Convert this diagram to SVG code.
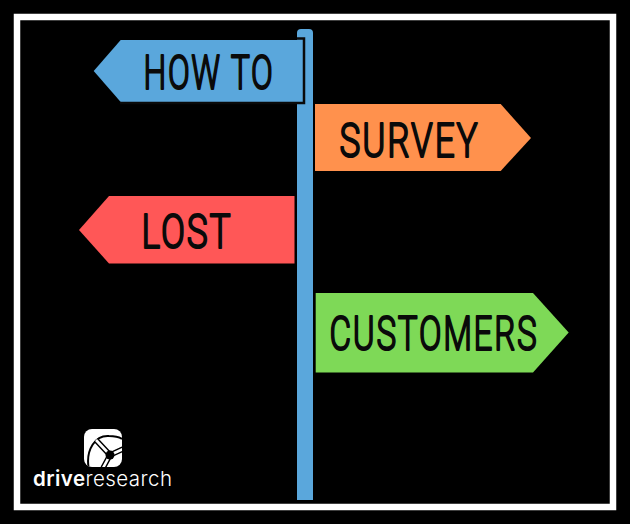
<svg xmlns="http://www.w3.org/2000/svg" width="630" height="524" viewBox="0 0 630 524">
<style>
.sign{font-family:"Roboto","Liberation Sans",sans-serif;font-weight:300;font-size:47.500px;letter-spacing:2.500px;fill:#0a0a0a;stroke:#0a0a0a;stroke-width:2.100px;stroke-linejoin:round}
.logo{font-family:"Inter","Open Sans",sans-serif;font-size:20.500px;fill:#fff}
.spoke{fill:none;stroke:#000;stroke-width:5.500}
.spoke-in{fill:none;stroke:#fff;stroke-width:2.600}
</style>
<defs><clipPath id="sq"><rect x="84" y="429" width="38" height="38" rx="8"/></clipPath></defs>
<rect width="630" height="524" fill="#000"/>
<rect x="17" y="17" width="596" height="490" fill="none" stroke="#fff" stroke-width="6.500"/>
<g id="pole"><rect x="297" y="29" width="16" height="471" rx="4" fill="#5aa7dc"/><rect x="297" y="40" width="16" height="460" fill="#5aa7dc"/></g>
<g id="how-to">
<path d="M120.700 40H303.500V102H120.700L93.700 71Z" fill="#5aa7dc"/>
<path d="M297 38.500H304V103H120" fill="none" stroke="#0a0a0a" stroke-width="2.500"/>
<text class="sign" x="143.500" y="88.500" textLength="131" lengthAdjust="spacingAndGlyphs">HOW TO</text>
</g>
<g id="survey">
<path d="M315 104H500.700L531 138L500.700 171H315Z" fill="#ff914d"/>
<text class="sign" x="339.500" y="156.500" textLength="140" lengthAdjust="spacingAndGlyphs">SURVEY</text>
</g>
<g id="lost">
<path d="M294.500 196H109L79 230L109 263.500H294.500Z" fill="#ff5757"/>
<text class="sign" x="141.500" y="247.500" textLength="91" lengthAdjust="spacingAndGlyphs">LOST</text>
</g>
<g id="customers">
<path d="M315.700 293H533L568.700 332.500L533 372.500H315.700Z" fill="#7ed957"/>
<text class="sign" x="329.500" y="349.500" textLength="209" lengthAdjust="spacingAndGlyphs">CUSTOMERS</text>
</g>
<g id="logo">
<rect x="84" y="429" width="38" height="38" rx="8" fill="#fff"/>
<g clip-path="url(#sq)">
<path d="M88.500 467C86 450 95 435 109 436C114 436 119 437 122 439" fill="none" stroke="#000" stroke-width="2"/>
<path class="spoke" d="M96 440L110 455M110 455L123 449M110 455L103 468"/>
<path class="spoke-in" d="M96 440L110 455M110 455L123 449M110 455L103 468"/>
<circle cx="110" cy="455" r="4.500" fill="#000"/>
</g>
<text class="logo" x="33" y="485.500" textLength="139"><tspan font-weight="600">drive</tspan><tspan font-weight="300">research</tspan></text>
</g>
</svg>
